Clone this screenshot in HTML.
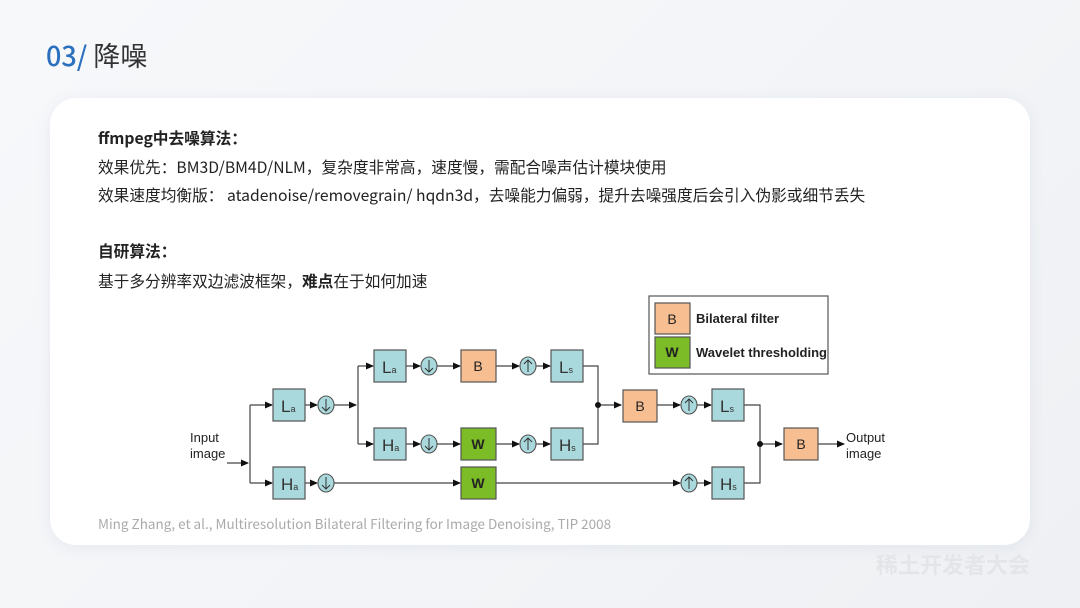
<!DOCTYPE html>
<html><head><meta charset="utf-8"><style>
html,body{margin:0;padding:0}
body{width:1080px;height:608px;position:relative;overflow:hidden;background:linear-gradient(135deg,#f7f8fa 0%,#f2f4f7 60%,#eef0f3 100%);font-family:"Liberation Sans","Noto Sans CJK SC",sans-serif}
.card{position:absolute;left:50px;top:98px;width:980px;height:447px;background:#fff;border-radius:26px;box-shadow:0 2px 14px rgba(120,140,170,.12)}
.t{position:absolute;left:98px;font-size:15.7px;color:#222;white-space:nowrap;font-family:"Noto Sans CJK SC","Liberation Sans",sans-serif}
.b{font-weight:bold}
</style></head><body>
<div style="position:absolute;left:46px;top:35px;font-size:27px;font-family:'Noto Sans CJK SC',sans-serif;color:#333;white-space:nowrap"><span style="color:#2b6fbf;font-weight:500">03/</span> 降噪</div>
<div class="card"></div>
<div class="t b" style="top:126px">ffmpeg中去噪算法：</div>
<div class="t" style="top:155px">效果优先：BM3D/BM4D/NLM，复杂度非常高，速度慢，需配合噪声估计模块使用</div>
<div class="t" style="top:183px">效果速度均衡版： atadenoise/removegrain/ hqdn3d，去噪能力偏弱，提升去噪强度后会引入伪影或细节丢失</div>
<div class="t b" style="top:239px">自研算法：</div>
<div class="t" style="top:269px">基于多分辨率双边滤波框架，<b>难点</b>在于如何加速</div>
<div class="t" style="top:513px;font-size:13.5px;color:#aaa">Ming Zhang, et al., Multiresolution Bilateral Filtering for Image Denoising, TIP 2008</div>
<div style="position:absolute;left:876px;top:548px;font-size:22px;font-weight:bold;color:#e3e5e8;font-family:'Noto Sans CJK SC',sans-serif">稀土开发者大会</div>
<svg style="position:absolute;left:0;top:0" width="1080" height="608" font-family="Liberation Sans,sans-serif">
<defs><marker id="a" markerWidth="8" markerHeight="8" refX="7" refY="4" orient="auto" markerUnits="userSpaceOnUse"><path d="M0,0.5 L8,4 L0,7.5z" fill="#111"/></marker></defs>
<g stroke="#444" stroke-width="1.2" fill="none">
<path d="M227,463 H248" marker-end="url(#a)"/>
<path d="M250,405 V483"/>
<path d="M250,405 H272" marker-end="url(#a)"/>
<path d="M250,483 H272" marker-end="url(#a)"/>
<path d="M305,405 H317" marker-end="url(#a)"/>
<path d="M334,405 H356" marker-end="url(#a)"/>
<path d="M358,366 V444"/>
<path d="M358,366 H373" marker-end="url(#a)"/>
<path d="M358,444 H373" marker-end="url(#a)"/>
<path d="M406,366 H420" marker-end="url(#a)"/>
<path d="M437,366 H460" marker-end="url(#a)"/>
<path d="M496,366 H519" marker-end="url(#a)"/>
<path d="M536,366 H550" marker-end="url(#a)"/>
<path d="M406,444 H420" marker-end="url(#a)"/>
<path d="M437,444 H460" marker-end="url(#a)"/>
<path d="M496,444 H519" marker-end="url(#a)"/>
<path d="M536,444 H550" marker-end="url(#a)"/>
<path d="M583,366 H598 V444 H583"/>
<path d="M598,405 H621" marker-end="url(#a)"/>
<path d="M657,405 H680" marker-end="url(#a)"/>
<path d="M697,405 H711" marker-end="url(#a)"/>
<path d="M305,483 H317" marker-end="url(#a)"/>
<path d="M334,483 H460" marker-end="url(#a)"/>
<path d="M496,483 H680" marker-end="url(#a)"/>
<path d="M697,483 H711" marker-end="url(#a)"/>
<path d="M744,405 H760 V483 H744"/>
<path d="M760,444 H782" marker-end="url(#a)"/>
<path d="M818,444 H844" marker-end="url(#a)"/>
</g>
<circle cx="598" cy="405" r="3" fill="#111"/><circle cx="760" cy="444" r="3" fill="#111"/>
<g stroke="#555" stroke-width="1.2">
<rect x="273" y="389" width="32" height="32" fill="#a9d9dc"/>
<rect x="273" y="467" width="32" height="32" fill="#a9d9dc"/>
<rect x="374" y="350" width="32" height="32" fill="#a9d9dc"/>
<rect x="374" y="428" width="32" height="32" fill="#a9d9dc"/>
<rect x="551" y="350" width="32" height="32" fill="#a9d9dc"/>
<rect x="551" y="428" width="32" height="32" fill="#a9d9dc"/>
<rect x="712" y="389" width="32" height="32" fill="#a9d9dc"/>
<rect x="712" y="467" width="32" height="32" fill="#a9d9dc"/>
<rect x="461" y="350" width="35" height="32" fill="#f7be92"/>
<rect x="623" y="390" width="34" height="32" fill="#f7be92"/>
<rect x="784" y="428" width="34" height="32" fill="#f7be92"/>
<rect x="461" y="428" width="35" height="32" fill="#7cbc26"/>
<rect x="461" y="467" width="35" height="32" fill="#7cbc26"/>
<rect x="649" y="296" width="179" height="78" fill="#fff"/>
<rect x="655" y="303" width="35" height="31" fill="#f7be92"/>
<rect x="655" y="337" width="35" height="31" fill="#7cbc26"/>
</g>
<g fill="#a9d9dc" stroke="#555" stroke-width="1.1">
<ellipse cx="326" cy="405" rx="8" ry="9"/><ellipse cx="326" cy="483" rx="8" ry="9"/>
<ellipse cx="429" cy="366" rx="8" ry="9"/><ellipse cx="429" cy="444" rx="8" ry="9"/>
<ellipse cx="528" cy="366" rx="8" ry="9"/><ellipse cx="528" cy="444" rx="8" ry="9"/>
<ellipse cx="689" cy="405" rx="8" ry="9"/><ellipse cx="689" cy="483" rx="8" ry="9"/>
</g>
<g stroke="#333" stroke-width="1" fill="none">
<path d="M326,399 V411 M322,407 L326,411 L330,407"/><path d="M326,477 V489 M322,485 L326,489 L330,485"/>
<path d="M429,360 V372 M425,368 L429,372 L433,368"/><path d="M429,438 V450 M425,446 L429,450 L433,446"/>
<path d="M528,360 V372 M524,364 L528,360 L532,364"/><path d="M528,438 V450 M524,442 L528,438 L532,442"/>
<path d="M689,399 V411 M685,403 L689,399 L693,403"/><path d="M689,477 V489 M685,481 L689,477 L693,481"/>
</g>
<g font-size="17" fill="#333">
<text x="281" y="412">L<tspan font-size="9">a</tspan></text>
<text x="281" y="490">H<tspan font-size="9">a</tspan></text>
<text x="382" y="373">L<tspan font-size="9">a</tspan></text>
<text x="382" y="451">H<tspan font-size="9">a</tspan></text>
<text x="559" y="373">L<tspan font-size="9">s</tspan></text>
<text x="559" y="451">H<tspan font-size="9">s</tspan></text>
<text x="720" y="412">L<tspan font-size="9">s</tspan></text>
<text x="720" y="490">H<tspan font-size="9">s</tspan></text>
</g>
<g font-size="14" fill="#222" text-anchor="middle">
<text x="478" y="371">B</text><text x="640" y="411">B</text><text x="801" y="449">B</text>
<text x="478" y="449" font-weight="bold">W</text><text x="478" y="488" font-weight="bold">W</text>
<text x="672" y="324">B</text><text x="672" y="357" font-weight="bold">W</text>
</g>
<g font-size="13" fill="#222" font-weight="bold">
<text x="696" y="323">Bilateral filter</text><text x="696" y="357">Wavelet thresholding</text>
</g>
<g font-size="13" fill="#222">
<text x="190" y="442">Input</text><text x="190" y="458">image</text>
<text x="846" y="442">Output</text><text x="846" y="458">image</text>
</g>
</svg>
</body></html>
